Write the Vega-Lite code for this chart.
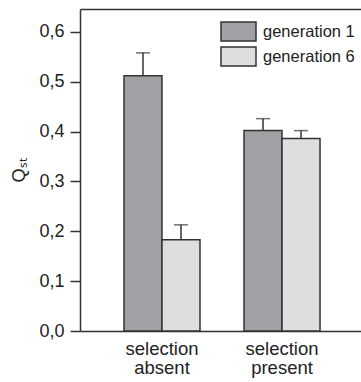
{
  "$schema": "https://vega.github.io/schema/vega-lite/v6.json",
  "width": 281,
  "height": 322,
  "autosize": {"type": "none"},
  "padding": {"left": 80, "top": 9, "right": 0, "bottom": 51},
  "background": "white",
  "config": {"view": {"stroke": null}, "font": "Liberation Sans"},
  "data": {"values": [
    {"condition": "selection absent", "generation": "generation 1", "qst": 0.512, "upper": 0.558},
    {"condition": "selection absent", "generation": "generation 6", "qst": 0.183, "upper": 0.213},
    {"condition": "selection present", "generation": "generation 1", "qst": 0.402, "upper": 0.426},
    {"condition": "selection present", "generation": "generation 6", "qst": 0.386, "upper": 0.402}
  ]},
  "layer": [
    {
      "mark": {"type": "bar", "stroke": "#333333", "strokeWidth": 1.5, "opacity": 1},
      "encoding": {
        "x": {"field": "condition", "type": "nominal", "sort": ["selection absent", "selection present"],
          "scale": {"paddingInner": 0.3667, "paddingOuter": 0.354, "align": 0.5176},
          "axis": {"orient": "bottom", "title": null, "ticks": false, "labelAngle": 0, "labelExpr": "split(datum.label, ' ')",
            "labelFontSize": 18.5, "labelLineHeight": 19, "labelPadding": 8, "labelColor": "#222222", "labelBaseline": "top",
            "domainColor": "#333333", "domainWidth": 1.5}},
        "xOffset": {"field": "generation", "type": "nominal", "scale": {"paddingInner": 0, "paddingOuter": 0}},
        "y": {"field": "qst", "type": "quantitative", "scale": {"domain": [0, 0.646], "nice": false, "zero": true},
          "axis": {"values": [0, 0.1, 0.2, 0.3, 0.4, 0.5, 0.6], "labelExpr": "replace(format(datum.value, '.1f'), '.', ',')",
            "grid": false, "tickSize": 10, "tickWidth": 1.5, "tickColor": "#333333", "domainColor": "#333333", "domainWidth": 1.5,
            "labelFontSize": 18, "labelColor": "#222222", "labelPadding": 6,
            "title": "Qₛₜ", "titleFontSize": 18, "titleFontWeight": "normal", "titleColor": "#222222", "titlePadding": 10}},
        "fill": {"field": "generation", "type": "nominal",
          "scale": {"domain": ["generation 1", "generation 6"], "range": ["#a0a1a5", "#dddee0"]},
          "legend": {"orient": "none", "legendX": 148, "legendY": 12, "title": null, "padding": 0,
            "symbolType": "M-1.842,-1H1.842V1H-1.842Z", "symbolSize": 361, "symbolStrokeColor": "#333333", "symbolStrokeWidth": 1.5,
            "symbolOpacity": 1, "labelFontSize": 16.5, "labelOffset": 14, "rowPadding": 0, "labelColor": "#222222",
            "encode": {"symbols": {"update": {"stroke": {"value": "#333333"}, "strokeWidth": {"value": 1.5}}}}}}
      }
    },
    {
      "mark": {"type": "rule", "color": "#333333", "strokeWidth": 1.5},
      "encoding": {
        "x": {"field": "condition", "type": "nominal", "sort": ["selection absent", "selection present"],
          "axis": {"orient": "top", "title": null, "ticks": false, "labels": false, "domainColor": "#333333", "domainWidth": 1.5}},
        "xOffset": {"field": "generation", "type": "nominal"},
        "y": {"field": "qst", "type": "quantitative"},
        "y2": {"field": "upper"}
      }
    },
    {
      "mark": {"type": "tick", "color": "#333333", "thickness": 1.5, "size": 14, "orient": "horizontal"},
      "encoding": {
        "x": {"field": "condition", "type": "nominal", "sort": ["selection absent", "selection present"], "axis": null},
        "xOffset": {"field": "generation", "type": "nominal"},
        "y": {"field": "upper", "type": "quantitative"}
      }
    }
  ],
  "resolve": {"axis": {"x": "independent"}}
}
